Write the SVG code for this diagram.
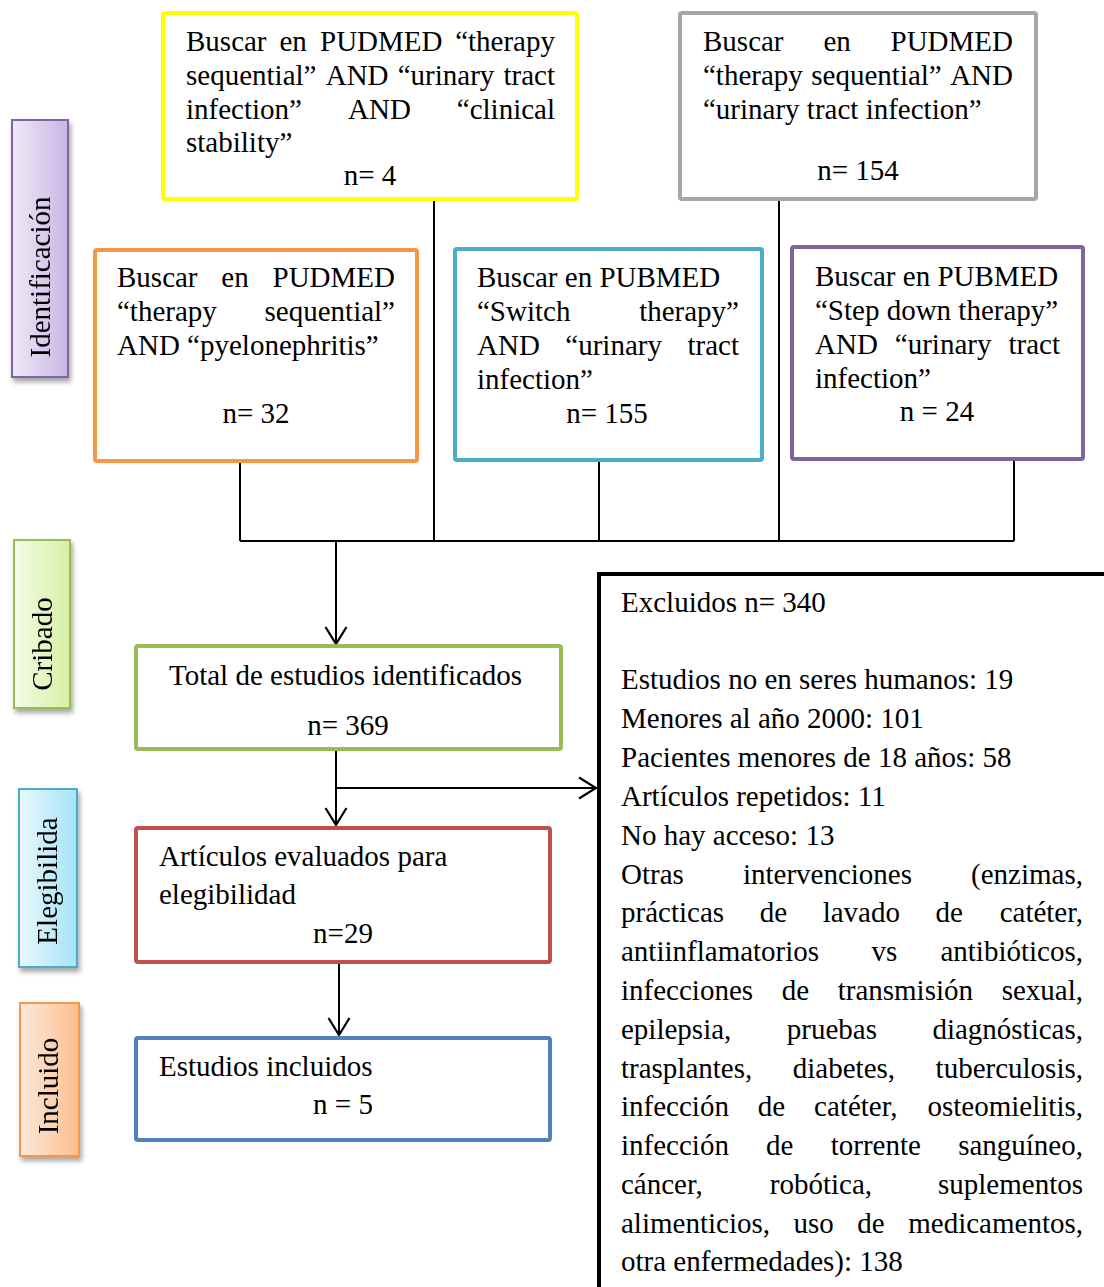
<svg xmlns="http://www.w3.org/2000/svg" width="1104" height="1287" viewBox="0 0 1104 1287">
<style>
text{font-family:"Liberation Serif","Times New Roman",serif;font-size:29px;fill:#000}
.e{text-anchor:end}
.m{text-anchor:middle}
.box{fill:#fff;stroke-width:4}
.lab{stroke-width:2}
.ln{stroke:#000;stroke-width:2;fill:none}
</style>
<defs>
<marker id="arr" markerUnits="userSpaceOnUse" viewBox="0 0 20 24" refX="18" refY="12" markerWidth="20" markerHeight="24" orient="auto">
<path d="M1,1.5 L18,12 L1,22.5" fill="none" stroke="#000" stroke-width="2.2"/>
</marker>
<filter id="sh" x="-30%" y="-10%" width="170%" height="125%">
<feDropShadow dx="2" dy="4" stdDeviation="2.5" flood-color="#000" flood-opacity="0.35"/>
</filter>
<linearGradient id="gPur" x1="0" y1="0" x2="1" y2="0"><stop offset="0" stop-color="#efeaf7"/><stop offset="1" stop-color="#c9b5e5"/></linearGradient>
<linearGradient id="gGrn" x1="0" y1="0" x2="1" y2="0"><stop offset="0" stop-color="#f4fbe6"/><stop offset="1" stop-color="#d5f1a4"/></linearGradient>
<linearGradient id="gBlu" x1="0" y1="0" x2="1" y2="0"><stop offset="0" stop-color="#e9f8fd"/><stop offset="1" stop-color="#a4e3f7"/></linearGradient>
<linearGradient id="gOra" x1="0" y1="0" x2="1" y2="0"><stop offset="0" stop-color="#fde9da"/><stop offset="1" stop-color="#fbbf8e"/></linearGradient>
</defs>
<rect width="1104" height="1287" fill="#fff"/>

<g id="connectors">
<path class="ln" d="M240,462 V541 M434,200 V541 M599,461 V541 M779,200 V541 M1014,460 V541 M240,541 H1014"/>
<path class="ln" d="M336,541 V644" marker-end="url(#arr)"/>
<path class="ln" d="M336,750 V825" marker-end="url(#arr)"/>
<path class="ln" d="M336,788 H596" marker-end="url(#arr)"/>
<path class="ln" d="M339,963 V1035" marker-end="url(#arr)"/>
</g>

<g id="lab-identificacion" filter="url(#sh)">
<rect class="lab" x="12" y="120" width="56" height="257" fill="url(#gPur)" stroke="#8064a2"/>
<text class="m" transform="translate(50,277) rotate(-90)">Identificación</text>
</g>
<g id="lab-cribado" filter="url(#sh)">
<rect class="lab" x="14" y="540" width="56" height="168" fill="url(#gGrn)" stroke="#9bbb59"/>
<text class="m" transform="translate(52,644) rotate(-90)">Cribado</text>
</g>
<g id="lab-elegibilida" filter="url(#sh)">
<rect class="lab" x="19" y="789" width="58" height="178" fill="url(#gBlu)" stroke="#4bacc6"/>
<text class="m" transform="translate(57,881) rotate(-90)">Elegibilida</text>
</g>
<g id="lab-incluido" filter="url(#sh)">
<rect class="lab" x="20" y="1003" width="59" height="153" fill="url(#gOra)" stroke="#f79646"/>
<text class="m" transform="translate(58,1086) rotate(-90)">Incluido</text>
</g>

<g id="n-yellow">
<rect class="box" x="163" y="13" width="414" height="186" rx="2" stroke="#ffff00"/>
<text y="51"><tspan x="186">Buscar</tspan><tspan x="279.5">en</tspan><tspan x="320">PUDMED</tspan></text>
<text class="e" x="555" y="51">“therapy</text>
<text y="85"><tspan x="186">sequential”</tspan><tspan x="325.7">AND</tspan><tspan x="397.7">“urinary</tspan></text>
<text class="e" x="555" y="85">tract</text>
<text y="119"><tspan x="186">infection”</tspan><tspan x="348">AND</tspan></text>
<text class="e" x="555" y="119">“clinical</text>
<text x="186" y="152">stability”</text>
<text class="m" x="370" y="185">n= 4</text>
</g>

<g id="n-gray">
<rect class="box" x="680" y="13" width="356" height="186" rx="2" stroke="#a6a6a6"/>
<text y="51"><tspan x="703">Buscar</tspan><tspan x="823.4">en</tspan></text>
<text class="e" x="1013" y="51">PUDMED</text>
<text y="85"><tspan x="703">“therapy</tspan><tspan x="811.3">sequential”</tspan></text>
<text class="e" x="1013" y="85">AND</text>
<text x="703" y="119">“urinary tract infection”</text>
<text class="m" x="858" y="180">n= 154</text>
</g>

<g id="n-orange">
<rect class="box" x="95" y="250" width="322" height="211" rx="2" stroke="#f79646"/>
<text y="287"><tspan x="117">Buscar</tspan><tspan x="221.3">en</tspan></text>
<text class="e" x="395" y="287">PUDMED</text>
<text x="117" y="321">“therapy</text>
<text class="e" x="395" y="321">sequential”</text>
<text x="117" y="355">AND “pyelonephritis”</text>
<text class="m" x="256" y="423">n= 32</text>
</g>

<g id="n-blue">
<rect class="box" x="455" y="249" width="307" height="211" rx="2" stroke="#4bacc6"/>
<text x="477" y="287">Buscar en PUBMED</text>
<text x="477" y="321">“Switch</text>
<text class="e" x="739" y="321">therapy”</text>
<text y="355"><tspan x="477">AND</tspan><tspan x="565.3">“urinary</tspan></text>
<text class="e" x="739" y="355">tract</text>
<text x="477" y="389">infection”</text>
<text class="m" x="607" y="423">n= 155</text>
</g>

<g id="n-purple">
<rect class="box" x="792" y="247" width="291" height="212" rx="2" stroke="#8064a2"/>
<text x="815" y="286">Buscar en PUBMED</text>
<text x="815" y="320">“Step down therapy”</text>
<text y="354"><tspan x="815">AND</tspan><tspan x="894.8">“urinary</tspan></text>
<text class="e" x="1060" y="354">tract</text>
<text x="815" y="388">infection”</text>
<text class="m" x="937" y="421">n = 24</text>
</g>

<g id="n-total">
<rect class="box" x="136" y="646" width="425" height="103" rx="2" stroke="#9bbb59"/>
<text x="169" y="685">Total de estudios identificados</text>
<text class="m" x="348" y="735">n= 369</text>
</g>

<g id="n-evaluados">
<rect class="box" x="136" y="828" width="414" height="134" rx="2" stroke="#c0504d"/>
<text x="159" y="866">Artículos evaluados para</text>
<text x="159" y="904">elegibilidad</text>
<text class="m" x="343" y="943">n=29</text>
</g>

<g id="n-incluidos">
<rect class="box" x="136" y="1038" width="414" height="102" rx="2" stroke="#4f81bd"/>
<text x="159" y="1076">Estudios incluidos</text>
<text class="m" x="343" y="1114">n = 5</text>
</g>

<g id="n-excluidos">
<rect x="599" y="574" width="600" height="800" fill="#fff" stroke="#000" stroke-width="4"/>
<text x="621" y="612">Excluidos n= 340</text>
<text x="621" y="689">Estudios no en seres humanos: 19</text>
<text x="621" y="728">Menores al año 2000: 101</text>
<text x="621" y="767">Pacientes menores de 18 años: 58</text>
<text x="621" y="806">Artículos repetidos: 11</text>
<text x="621" y="845">No hay acceso: 13</text>
<text y="884"><tspan x="621">Otras</tspan><tspan x="742.9">intervenciones</tspan></text>
<text class="e" x="1083" y="884">(enzimas,</text>
<text y="922"><tspan x="621">prácticas</tspan><tspan x="759.7">de</tspan><tspan x="822.7">lavado</tspan><tspan x="935.6">de</tspan></text>
<text class="e" x="1083" y="922">catéter,</text>
<text y="961"><tspan x="621">antiinflamatorios</tspan><tspan x="871.5">vs</tspan></text>
<text class="e" x="1083" y="961">antibióticos,</text>
<text y="1000"><tspan x="621">infecciones</tspan><tspan x="781.7">de</tspan><tspan x="837.7">transmisión</tspan></text>
<text class="e" x="1083" y="1000">sexual,</text>
<text y="1039"><tspan x="621">epilepsia,</tspan><tspan x="786.8">pruebas</tspan></text>
<text class="e" x="1083" y="1039">diagnósticas,</text>
<text y="1078"><tspan x="621">trasplantes,</tspan><tspan x="792.8">diabetes,</tspan></text>
<text class="e" x="1083" y="1078">tuberculosis,</text>
<text y="1116"><tspan x="621">infección</tspan><tspan x="757.8">de</tspan><tspan x="814.1">catéter,</tspan></text>
<text class="e" x="1083" y="1116">osteomielitis,</text>
<text y="1155"><tspan x="621">infección</tspan><tspan x="766.1">de</tspan><tspan x="830.7">torrente</tspan></text>
<text class="e" x="1083" y="1155">sanguíneo,</text>
<text y="1194"><tspan x="621">cáncer,</tspan><tspan x="769.8">robótica,</tspan></text>
<text class="e" x="1083" y="1194">suplementos</text>
<text y="1233"><tspan x="621">alimenticios,</tspan><tspan x="793.5">uso</tspan><tspan x="857.3">de</tspan></text>
<text class="e" x="1083" y="1233">medicamentos,</text>
<text x="621" y="1271">otra enfermedades): 138</text>
</g>
</svg>
